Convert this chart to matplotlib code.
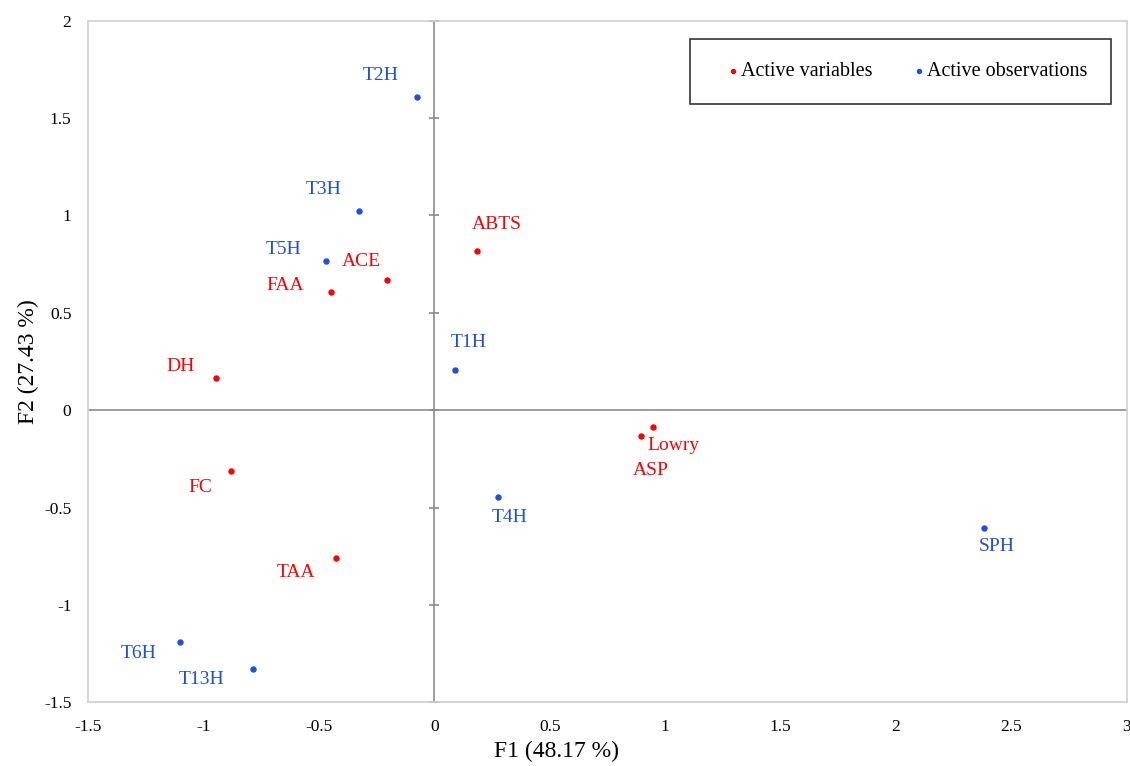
import matplotlib
matplotlib.use("Agg")
import matplotlib.pyplot as plt

plt.rcParams['font.family'] = ['Liberation Serif', 'DejaVu Serif']

# Active variables (red)
var_names = ["ABTS", "ACE", "FAA", "DH", "FC", "TAA", "Lowry", "ASP"]
var_x = [0.186, -0.203, -0.449, -0.946, -0.881, -0.428, 0.946, 0.894]
var_y = [0.815, 0.667, 0.605, 0.164, -0.313, -0.759, -0.087, -0.133]
var_offsets = [(20, 27), (-26, 19), (-45, 7), (-35, 12), (-31, -16), (-40, -14), (21, -18), (10, -34)]

# Active observations (blue)
obs_names = ["T2H", "T3H", "T5H", "T1H", "T4H", "SPH", "T6H", "T13H"]
obs_x = [-0.073, -0.328, -0.471, 0.091, 0.276, 2.380, -1.101, -0.786]
obs_y = [1.610, 1.021, 0.764, 0.205, -0.446, -0.605, -1.190, -1.328]
obs_offsets = [(-37, 21), (-35, 22), (-42, 12), (13, 28), (12, -20), (13, -18), (-42, -11), (-51, -11)]

x_ticks = [-1.5, -1, -0.5, 0, 0.5, 1, 1.5, 2, 2.5, 3]
y_ticks = [-1.5, -1, -0.5, 0, 0.5, 1, 1.5, 2]

red = "#ff0000"
blue = "#1f4fe0"

fig = plt.figure(figsize=(11.3, 7.66), dpi=100)
ax = fig.add_axes([0.078, 0.083, 0.919, 0.890])
ax.set_xlim(-1.5, 3)
ax.set_ylim(-1.5, 2)

ax.axhline(0, color="#8c8c8c", lw=1.2, zorder=1)
ax.axvline(0, color="#8c8c8c", lw=1.2, zorder=1)
# small tick marks on the vertical zero line
ax.plot([0] * len(y_ticks), y_ticks, linestyle="none", marker="_", markersize=7,
        color="#8c8c8c", mew=1.2, zorder=1, clip_on=False)

ax.scatter(var_x, var_y, s=13, color=red, zorder=3, label="Active variables")
ax.scatter(obs_x, obs_y, s=13, color=blue, zorder=3, label="Active observations")

for n, x, y, (dx, dy) in zip(var_names, var_x, var_y, var_offsets):
    ax.annotate(n, (x, y), xytext=(dx, dy), textcoords="offset pixels",
                ha="center", va="center", color=red, fontsize=14)
for n, x, y, (dx, dy) in zip(obs_names, obs_x, obs_y, obs_offsets):
    ax.annotate(n, (x, y), xytext=(dx, dy), textcoords="offset pixels",
                ha="center", va="center", color=blue, fontsize=14)

ax.set_xticks(x_ticks)
ax.set_xticklabels([f"{t:g}" for t in x_ticks])
ax.set_yticks(y_ticks)
ax.set_yticklabels([f"{t:g}" for t in y_ticks])
ax.tick_params(length=0, labelsize=12.5, pad=12)
for s in ax.spines.values():
    s.set_color("#d0d0d0")
    s.set_linewidth(1.2)

ax.set_xlabel("F1 (48.17 %)", fontsize=17)
ax.xaxis.set_label_coords(0.451, -0.056)
ax.set_ylabel("F2 (27.43 %)", fontsize=17, labelpad=4)

leg = ax.legend(loc="upper right", bbox_to_anchor=(0.9846, 0.9736), ncol=2,
                frameon=True, fancybox=False, fontsize=14.5, markerscale=0.8,
                handletextpad=-0.6, columnspacing=1.3, borderpad=1.15,
                handlelength=2.0, borderaxespad=0)
leg.get_frame().set_edgecolor("black")
leg.get_frame().set_linewidth(1.2)

fig.savefig("out.png", dpi=100)
